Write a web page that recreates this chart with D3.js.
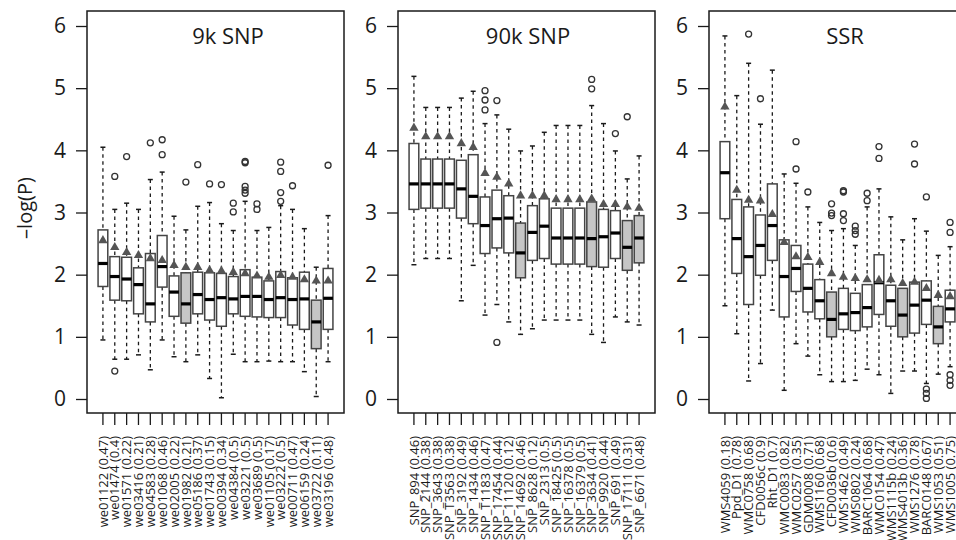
<!DOCTYPE html>
<html><head><meta charset="utf-8">
<script src="https://cdn.jsdelivr.net/npm/d3@7"></script>
<style>
body{margin:0;background:#fff;}
svg{display:block;font-family:"Open Sans","Noto Sans",sans-serif;}
</style></head>
<body><svg id="c" width="956" height="540"></svg>
<script>
// ---------------- DATA ----------------
const yTicks = [0,1,2,3,4,5,6];
const panelTitles = ["9k SNP","90k SNP","SSR"];
const yLabel = "\u2013log(P)";

// Panel 1: 9k SNP
const snp9Labels = ["we01122 (0.47)","we01474 (0.4)","we01571 (0.22)","we03416 (0.21)","we04583 (0.28)","we01068 (0.46)","we02005 (0.22)","we01982 (0.21)","we05186 (0.37)","we01743 (0.15)","we00394 (0.34)","we04384 (0.5)","we03221 (0.5)","we03689 (0.5)","we01105 (0.17)","we03222 (0.5)","we00711 (0.47)","we06159 (0.24)","we03722 (0.11)","we03196 (0.48)"];
const snp9Lo  = [0.95,0.64,0.64,0.71,0.47,0.95,0.68,0.60,0.71,0.33,0.02,0.72,0.60,0.60,0.61,0.60,0.60,0.44,0.04,0.60];
const snp9Q1  = [1.81,1.59,1.58,1.37,1.24,1.80,1.33,1.22,1.37,1.27,1.17,1.37,1.33,1.32,1.31,1.31,1.19,1.12,0.81,1.12];
const snp9Med = [2.18,1.97,1.93,1.84,1.53,2.13,1.72,1.53,1.68,1.60,1.63,1.61,1.65,1.65,1.60,1.63,1.60,1.61,1.24,1.62];
const snp9Q3  = [2.72,2.29,2.28,2.11,2.34,2.63,1.98,2.03,2.04,2.03,2.02,1.97,2.08,1.96,1.90,2.05,1.95,2.04,1.59,2.10];
const snp9Hi  = [4.05,3.05,3.15,3.05,3.53,3.65,2.94,2.72,3.10,3.16,2.82,2.71,3.18,2.71,2.76,3.11,3.05,2.74,2.12,2.95];
const snp9Tri = [2.55,2.44,2.36,2.31,2.26,2.23,2.15,2.12,2.12,2.07,2.06,2.04,2.02,1.98,1.96,1.99,1.96,1.92,1.90,1.90];
const snp9Gray = [0,0,0,0,0,0,0,1,0,0,0,0,0,0,0,0,0,0,1,0];
const snp9Out = [[],[3.58,0.45],[3.90],[],[4.12],[4.17,3.93],[],[3.49],[3.77],[3.46],[3.45],[3.15,3.01],[3.82,3.80,3.42,3.36,3.31],[3.14,3.05],[],[3.81,3.66,3.32,3.18],[3.43],[],[],[3.76]];

// Panel 2: 90k SNP
const snp90Labels = ["SNP_894 (0.46)","SNP_2144 (0.38)","SNP_3643 (0.38)","SNP_T3563 (0.38)","SNP_3192 (0.49)","SNP_1434 (0.46)","SNP_T1183 (0.47)","SNP_17454 (0.44)","SNP_11120 (0.12)","SNP_14692 (0.46)","SNP_8628 (0.12)","SNP_2313 (0.5)","SNP_18425 (0.5)","SNP_16378 (0.5)","SNP_16379 (0.5)","SNP_3634 (0.41)","SNP_9920 (0.44)","SNP_691 (0.49)","SNP_17111 (0.31)","SNP_6671 (0.48)"];
const snp90Lo  = [2.16,2.26,2.26,2.26,1.58,2.15,1.35,1.52,1.24,1.04,1.13,1.27,1.27,1.27,1.27,1.04,0.91,1.32,1.24,1.19];
const snp90Q1  = [3.05,3.07,3.07,3.07,2.91,2.82,2.34,2.43,2.35,1.95,2.23,2.26,2.17,2.17,2.17,2.13,2.12,2.26,2.07,2.19];
const snp90Med = [3.46,3.46,3.46,3.46,3.38,3.26,2.79,2.90,2.91,2.35,2.68,2.78,2.59,2.59,2.59,2.58,2.61,2.67,2.44,2.59];
const snp90Q3  = [4.11,3.86,3.86,3.86,3.84,3.93,3.25,3.36,3.27,2.83,3.11,3.22,3.07,3.07,3.07,3.17,3.05,3.03,2.87,2.95];
const snp90Hi  = [5.19,4.69,4.69,4.69,4.84,4.95,4.43,4.57,4.34,3.99,4.07,4.29,4.40,4.40,4.40,4.72,4.43,3.99,3.54,3.91];
const snp90Tri = [4.36,4.22,4.22,4.22,4.11,4.05,3.63,3.57,3.46,3.27,3.27,3.27,3.21,3.21,3.21,3.22,3.13,3.13,3.09,3.07];
const snp90Gray = [0,0,0,0,0,0,0,0,0,1,0,0,0,0,0,1,0,0,1,1];
const snp90Out = [[],[],[],[],[],[],[4.96,4.81,4.65],[4.80,0.91],[],[],[],[],[],[],[],[5.14,4.99],[],[4.27],[4.54],[]];

// Panel 3: SSR
const ssrLabels = ["WMS4059 (0.18)","Ppd_D1 (0.78)","WMC0758 (0.68)","CFD0056c (0.9)","Rht_D1 (0.7)","WMC0083 (0.82)","WMC0257 (0.35)","GDM0008 (0.71)","WMS1160 (0.68)","CFD0036b (0.6)","WMS1462 (0.49)","WMS0802 (0.24)","BARC1064 (0.68)","WMC0154 (0.47)","WMS1115b (0.24)","WMS4013b (0.36)","WMS1276 (0.78)","BARC0148 (0.67)","WMS1053 (0.51)","WMS1005 (0.75)"];
const ssrLo  = [1.50,1.05,0.29,0.57,1.43,0.14,0.89,0.69,0.39,0.28,0.28,0.30,0.48,0.39,0.09,0.45,0.45,0.25,0.40,0.52];
const ssrQ1  = [2.90,2.02,1.52,1.99,2.23,1.32,1.73,1.40,1.29,1.00,1.12,1.10,1.16,1.36,1.17,1.00,1.06,1.20,0.89,1.24];
const ssrMed = [3.64,2.58,2.29,2.47,2.79,1.97,2.10,1.78,1.58,1.28,1.37,1.39,1.47,1.87,1.58,1.35,1.51,1.59,1.16,1.45];
const ssrQ3  = [4.14,3.21,3.09,2.96,3.46,2.56,2.47,2.17,1.92,1.72,1.78,1.70,1.84,2.32,1.83,1.78,1.88,1.90,1.49,1.75];
const ssrHi  = [5.84,4.88,5.40,4.42,5.29,3.62,3.47,3.09,2.84,2.71,2.74,2.47,3.09,3.38,2.93,2.56,2.90,2.70,2.31,2.45];
const ssrTri = [4.70,3.36,3.20,3.19,2.97,2.52,2.29,2.28,2.20,2.02,1.96,1.94,1.92,1.91,1.92,1.86,1.88,1.78,1.67,1.65];
const ssrGray = [0,0,0,0,0,0,0,0,0,1,0,0,0,0,0,1,0,0,1,0];
const ssrOut = [[],[],[5.87],[4.83],[],[],[4.14,3.70],[3.33],[],[3.14,2.99,2.95],[3.35,3.33,2.98,2.87],[2.78,2.71,2.65],[3.31,3.19],[4.06,3.87],[],[],[4.10,3.78],[3.25,0.16,0.09,0.01],[],[2.84,2.68,0.39,0.30,0.22]];

// ---------------- LAYOUT ----------------
const panels = [
  {x0:87,  x1:344, title:panelTitles[0], tx:228, labels:snp9Labels, lo:snp9Lo, q1:snp9Q1, med:snp9Med, q3:snp9Q3, hi:snp9Hi, tri:snp9Tri, gray:snp9Gray, out:snp9Out},
  {x0:398, x1:655, title:panelTitles[1], tx:528, labels:snp90Labels, lo:snp90Lo, q1:snp90Q1, med:snp90Med, q3:snp90Q3, hi:snp90Hi, tri:snp90Tri, gray:snp90Gray, out:snp90Out},
  {x0:709, x1:966, title:panelTitles[2], tx:845, labels:ssrLabels, lo:ssrLo, q1:ssrQ1, med:ssrMed, q3:ssrQ3, hi:ssrHi, tri:ssrTri, gray:ssrGray, out:ssrOut}
];
const frameTop = 11, frameBottom = 413;
const y = d3.scaleLinear().domain([0,6]).range([399,26]);

const svg = d3.select("#c");
const ink = "#1a1a1a", boxStroke = "#444";

svg.append("text")
  .attr("transform","translate(32,208) rotate(-90)")
  .attr("text-anchor","middle")
  .attr("font-size",20).attr("fill",ink)
  .text(yLabel);

panels.forEach(p => {
  const g = svg.append("g");
  const x = d3.scaleBand().domain(p.labels).range([p.x0+10, p.x1-10]);
  const bw = x.bandwidth()*0.82;
  const cx = i => x(p.labels[i]) + x.bandwidth()/2;

  // frame
  g.append("rect").attr("x",p.x0).attr("y",frameTop)
    .attr("width",p.x1-p.x0).attr("height",frameBottom-frameTop)
    .attr("fill","none").attr("stroke",ink).attr("stroke-width",1.5);

  // y axis
  const ya = g.append("g").attr("transform",`translate(${p.x0},0)`)
    .call(d3.axisLeft(y).tickValues(yTicks).tickSize(11).tickPadding(10).tickFormat(d3.format("d")));
  ya.select(".domain").remove();
  ya.selectAll("line").attr("stroke",ink).attr("stroke-width",1.3);
  ya.selectAll("text").attr("font-size",21).attr("fill",ink).attr("font-family","'Open Sans',sans-serif");

  // x axis
  const xa = g.append("g").attr("transform",`translate(0,${frameBottom})`)
    .call(d3.axisBottom(x).tickSize(12).tickPadding(0));
  xa.select(".domain").remove();
  xa.selectAll("line").attr("stroke",ink).attr("stroke-width",1.3);
  xa.selectAll("text")
    .attr("transform","rotate(-90)")
    .attr("x",-23).attr("y",0).attr("dy","0.36em")
    .attr("text-anchor","end")
    .attr("font-size",13).attr("fill",ink)
    .attr("font-family","'Open Sans',sans-serif");

  // title
  g.append("text").attr("x",p.tx).attr("y",44).attr("text-anchor","middle")
    .attr("font-size",22).attr("fill",ink).text(p.title);

  const idx = d3.range(p.labels.length);
  const items = g.selectAll("g.bx").data(idx).join("g").attr("class","bx");

  // whiskers
  items.append("line").attr("x1",cx).attr("x2",cx)
    .attr("y1",i=>y(p.hi[i])).attr("y2",i=>y(p.q3[i]))
    .attr("stroke",ink).attr("stroke-width",1.3).attr("stroke-dasharray","3.5,3.5");
  items.append("line").attr("x1",cx).attr("x2",cx)
    .attr("y1",i=>y(p.q1[i])).attr("y2",i=>y(p.lo[i]))
    .attr("stroke",ink).attr("stroke-width",1.3).attr("stroke-dasharray","3.5,3.5");
  // staples
  items.append("line").attr("x1",i=>cx(i)-2.5).attr("x2",i=>cx(i)+2.5)
    .attr("y1",i=>y(p.hi[i])).attr("y2",i=>y(p.hi[i]))
    .attr("stroke",ink).attr("stroke-width",1.5);
  items.append("line").attr("x1",i=>cx(i)-2.5).attr("x2",i=>cx(i)+2.5)
    .attr("y1",i=>y(p.lo[i])).attr("y2",i=>y(p.lo[i]))
    .attr("stroke",ink).attr("stroke-width",1.5);
  // boxes
  items.append("rect").attr("x",i=>cx(i)-bw/2).attr("width",bw)
    .attr("y",i=>y(p.q3[i])).attr("height",i=>y(p.q1[i])-y(p.q3[i]))
    .attr("fill",i=>p.gray[i]?"#c6c6c6":"#fff")
    .attr("stroke",boxStroke).attr("stroke-width",1.5);
  // median
  items.append("line").attr("x1",i=>cx(i)-bw/2).attr("x2",i=>cx(i)+bw/2)
    .attr("y1",i=>y(p.med[i])).attr("y2",i=>y(p.med[i]))
    .attr("stroke","#000").attr("stroke-width",3.2);
  // triangles
  const tri = d3.symbol().type(d3.symbolTriangle).size(38);
  items.append("path").attr("d",tri)
    .attr("transform",i=>`translate(${cx(i)},${y(p.tri[i])})`)
    .attr("fill","#555");
  // outliers
  items.each(function(i){
    d3.select(this).selectAll("circle").data(p.out[i]).join("circle")
      .attr("cx",cx(i)).attr("cy",v=>y(v)).attr("r",3)
      .attr("fill","none").attr("stroke","#333").attr("stroke-width",1.3);
  });
});
</script></body></html>
